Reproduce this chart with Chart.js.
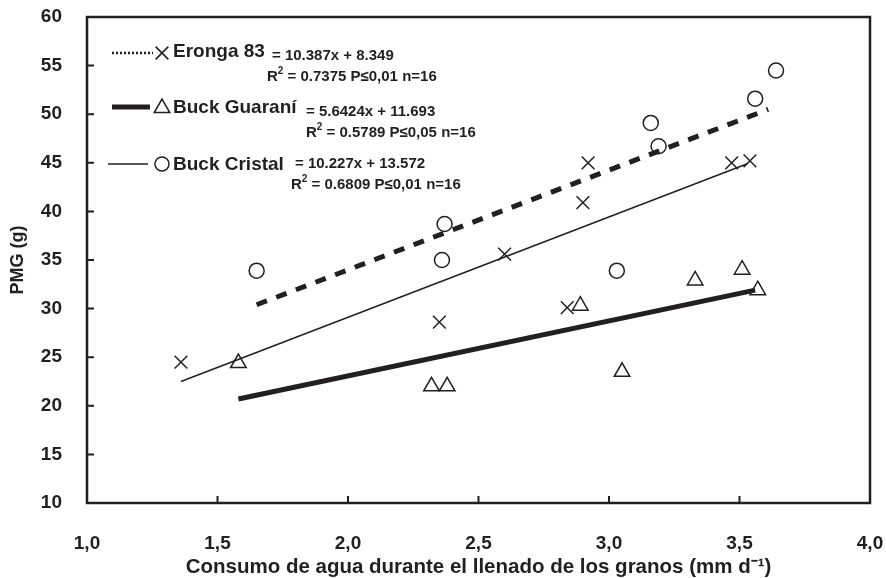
<!DOCTYPE html>
<html>
<head>
<meta charset="utf-8">
<script src="https://cdn.jsdelivr.net/npm/chart.js@4"></script>
<style>
  html, body { margin: 0; padding: 0; background: #fff; }
  #wrap { width: 886px; height: 578px; }
</style>
</head>
<body>
<div id="wrap"><canvas id="pmg-chart" width="886" height="578"></canvas></div>
<script>
// Data
const erongaX = [1.36, 2.35, 2.60, 2.84, 2.90, 2.92, 3.47, 3.54];
const erongaY = [24.5, 28.6, 35.6, 30.1, 40.9, 45.0, 45.0, 45.2];

const guaraniX = [1.58, 2.32, 2.38, 2.89, 3.05, 3.33, 3.51, 3.57];
const guaraniY = [24.4, 22.0, 22.0, 30.3, 23.5, 32.9, 34.0, 31.9];

const cristalX = [1.65, 2.36, 2.37, 3.03, 3.16, 3.19, 3.56, 3.64];
const cristalY = [33.9, 35.0, 38.7, 33.9, 49.1, 46.7, 51.6, 54.5];

// trend lines (start/end as drawn)
const dashedLineX = [1.65, 3.61];
const dashedLineY = [30.4, 50.5];
const thickLineX = [1.58, 3.56];
const thickLineY = [20.7, 31.9];
const thinLineX = [1.36, 3.53];
const thinLineY = [22.5, 44.9];

const xTickValues = [1.0, 1.5, 2.0, 2.5, 3.0, 3.5, 4.0];
const yTickValues = [10, 15, 20, 25, 30, 35, 40, 45, 50, 55, 60];

const legendNames = ['Eronga 83', 'Buck Guaraní', 'Buck Cristal'];
const legendEquations = ['= 10.387x + 8.349', '= 5.6424x + 11.693', '= 10.227x + 13.572'];
const legendStats = [' = 0.7375 P≤0,01 n=16', ' = 0.5789 P≤0,05 n=16', ' = 0.6809 P≤0,01 n=16'];

const ink = '#231f20';
const fontFamily = '"Liberation Sans", Arial, sans-serif';

function toPoints(xs, ys) {
    return xs.map((x, i) => ({ x: x, y: ys[i] }));
}

// box around plot + inward ticks
const frameTicks = {
    id: 'frameTicks',
    afterDraw(chart) {
        const { ctx, chartArea: a, scales } = chart;
        ctx.save();
        ctx.strokeStyle = ink;
        ctx.lineWidth = 2.5;
        ctx.strokeRect(a.left, a.top, a.right - a.left, a.bottom - a.top);
        ctx.lineWidth = 2;
        ctx.beginPath();
        xTickValues.forEach(v => {
            const px = scales.x.getPixelForValue(v);
            ctx.moveTo(px, a.bottom);
            ctx.lineTo(px, a.bottom - 7);
        });
        yTickValues.forEach(v => {
            const py = scales.y.getPixelForValue(v);
            ctx.moveTo(a.left, py);
            ctx.lineTo(a.left + 7, py);
        });
        ctx.stroke();
        ctx.restore();
    }
};

// legend with regression equations
const equationLegend = {
    id: 'equationLegend',
    afterDraw(chart) {
        const ctx = chart.ctx;
        const rows = [
            { lineY: 53, lineX0: 112, lineX1: 153, width: 2.5, dash: [2, 2], style: 'crossRot', radius: 9, nameY: 52, eqX: 272, eqY: 56, stX: 267, stY: 77 },
            { lineY: 107, lineX0: 112, lineX1: 150, width: 5, dash: [], style: 'triangle', radius: 9, nameY: 108, eqX: 306, eqY: 112, stX: 306, stY: 133 },
            { lineY: 164, lineX0: 108, lineX1: 148, width: 1.5, dash: [], style: 'circle', radius: 7, nameY: 165, eqX: 295, eqY: 164, stX: 291, stY: 185 }
        ];
        ctx.save();
        rows.forEach((r, i) => {
            ctx.strokeStyle = ink;
            ctx.fillStyle = '#fff';
            ctx.lineWidth = r.width;
            ctx.setLineDash(r.dash);
            ctx.beginPath();
            ctx.moveTo(r.lineX0, r.lineY);
            ctx.lineTo(r.lineX1, r.lineY);
            ctx.stroke();
            ctx.setLineDash([]);
            ctx.lineWidth = 1.5;
            Chart.helpers.drawPoint(ctx, { pointStyle: r.style, radius: r.radius, borderWidth: 1.5, rotation: 0 }, 162, r.lineY + (r.style === 'triangle' ? 1 : 0));

            ctx.fillStyle = ink;
            ctx.textBaseline = 'middle';
            ctx.textAlign = 'left';
            ctx.font = 'bold 19px ' + fontFamily;
            ctx.fillText(legendNames[i], 173, r.nameY);
            ctx.font = 'bold 15px ' + fontFamily;
            ctx.fillText(legendEquations[i], r.eqX, r.eqY);
            ctx.fillText('R', r.stX, r.stY);
            const rw = ctx.measureText('R').width;
            ctx.font = 'bold 10px ' + fontFamily;
            ctx.fillText('2', r.stX + rw, r.stY - 6);
            const sw = ctx.measureText('2').width;
            ctx.font = 'bold 15px ' + fontFamily;
            ctx.fillText(legendStats[i], r.stX + rw + sw, r.stY);
        });
        ctx.restore();
    }
};

const ctx = document.getElementById('pmg-chart').getContext('2d');

const pmgChart = new Chart(ctx, {
    type: 'scatter',
    data: {
        datasets: [
            {
                label: 'Eronga 83',
                data: toPoints(erongaX, erongaY),
                pointStyle: 'crossRot',
                pointRadius: 9,
                borderColor: ink,
                backgroundColor: ink,
                pointBorderWidth: 1.5
            },
            {
                label: 'Buck Guaraní',
                data: toPoints(guaraniX, guaraniY),
                pointStyle: 'triangle',
                pointRadius: 9,
                borderColor: ink,
                backgroundColor: 'rgba(255,255,255,0)',
                pointBorderWidth: 1.5
            },
            {
                label: 'Buck Cristal',
                data: toPoints(cristalX, cristalY),
                pointStyle: 'circle',
                pointRadius: 7.5,
                borderColor: ink,
                backgroundColor: 'rgba(255,255,255,0)',
                pointBorderWidth: 1.5
            },
            {
                type: 'line',
                label: 'dashed',
                data: toPoints(dashedLineX, dashedLineY),
                borderColor: ink,
                borderWidth: 5,
                borderDash: [11, 10],
                pointRadius: 0,
                fill: false
            },
            {
                type: 'line',
                label: 'thick',
                data: toPoints(thickLineX, thickLineY),
                borderColor: ink,
                borderWidth: 5,
                pointRadius: 0,
                fill: false
            },
            {
                type: 'line',
                label: 'thin',
                data: toPoints(thinLineX, thinLineY),
                borderColor: ink,
                borderWidth: 1.5,
                pointRadius: 0,
                fill: false
            }
        ]
    },
    options: {
        responsive: false,
        animation: false,
        events: [],
        layout: { padding: { top: 17, right: 16, left: 0, bottom: 0 } },
        plugins: {
            legend: { display: false },
            tooltip: { enabled: false }
        },
        scales: {
            x: {
                type: 'linear',
                min: 1,
                max: 4,
                afterFit(scale) {
                    scale.height = 75;
                    scale.paddingLeft = 0;
                    scale.paddingRight = 0;
                },
                afterBuildTicks(scale) { scale.ticks = xTickValues.map(v => ({ value: v })); },
                grid: { display: false },
                border: { display: false },
                ticks: {
                    padding: 21,
                    color: ink,
                    font: { family: fontFamily, size: 19, weight: 'bold' },
                    callback: v => v.toFixed(1).replace('.', ',')
                },
                title: {
                    display: true,
                    text: 'Consumo de agua durante el llenado de los granos (mm d⁻¹)',
                    color: ink,
                    font: { family: fontFamily, size: 20.5, weight: 'bold' },
                    padding: { top: 0, bottom: -2 }
                }
            },
            y: {
                type: 'linear',
                min: 10,
                max: 60,
                afterFit(scale) {
                    scale.width = 87;
                    scale.paddingTop = 0;
                    scale.paddingBottom = 0;
                },
                afterBuildTicks(scale) { scale.ticks = yTickValues.map(v => ({ value: v })); },
                grid: { display: false },
                border: { display: false },
                ticks: {
                    padding: 17,
                    color: ink,
                    font: { family: fontFamily, size: 19, weight: 'bold' }
                },
                title: {
                    display: true,
                    text: 'PMG (g)',
                    color: ink,
                    font: { family: fontFamily, size: 18, weight: 'bold' },
                    padding: { top: 7, bottom: 0 }
                }
            }
        }
    },
    plugins: [frameTicks, equationLegend]
});
</script>
</body>
</html>
